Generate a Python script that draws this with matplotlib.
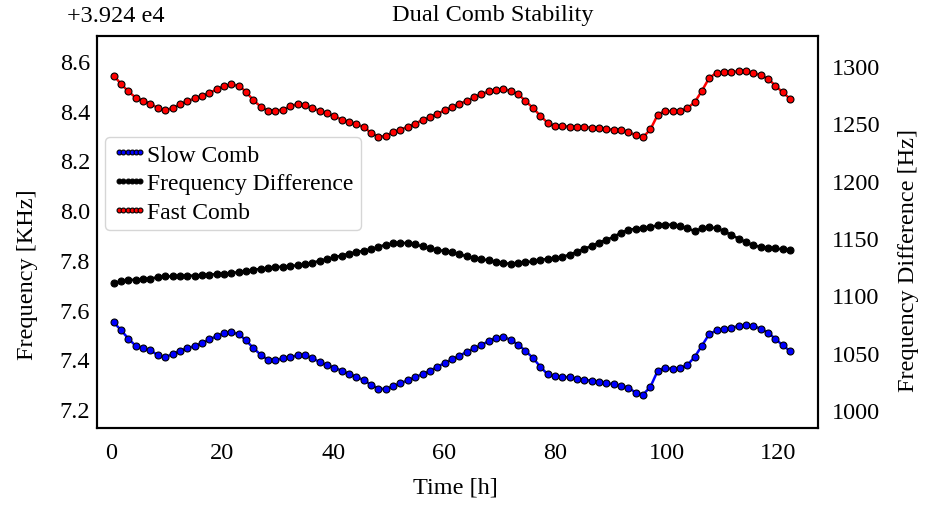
import numpy as np
import matplotlib
matplotlib.use("Agg")
import matplotlib.pyplot as plt

plt.rcParams['font.family'] = ['Liberation Serif', 'DejaVu Serif']
plt.rcParams['font.size'] = 17.5

# sampling times [h]
hours = np.linspace(0.5, 122.2, 93)

# comb frequencies in kHz, relative to the axis offset 3.924e4 kHz
slow_comb = [7.549, 7.517, 7.483, 7.454, 7.446, 7.437, 7.416, 7.409, 7.421, 7.435,
             7.444, 7.454, 7.465, 7.480, 7.493, 7.505, 7.508, 7.502, 7.476, 7.445,
             7.418, 7.398, 7.397, 7.404, 7.408, 7.417, 7.416, 7.405, 7.389, 7.377,
             7.367, 7.354, 7.342, 7.330, 7.316, 7.298, 7.282, 7.281, 7.292, 7.304,
             7.316, 7.328, 7.341, 7.354, 7.370, 7.385, 7.400, 7.415, 7.429, 7.444,
             7.457, 7.474, 7.487, 7.491, 7.478, 7.459, 7.434, 7.406, 7.371, 7.340,
             7.331, 7.330, 7.327, 7.322, 7.318, 7.314, 7.310, 7.304, 7.300, 7.294,
             7.286, 7.266, 7.258, 7.290, 7.355, 7.367, 7.360, 7.364, 7.377, 7.409,
             7.455, 7.502, 7.516, 7.521, 7.526, 7.535, 7.539, 7.534, 7.523, 7.507,
             7.482, 7.456, 7.433]

fast_comb = [8.541, 8.507, 8.477, 8.452, 8.440, 8.428, 8.410, 8.401, 8.411, 8.425,
             8.438, 8.449, 8.460, 8.471, 8.485, 8.499, 8.505, 8.500, 8.476, 8.441,
             8.416, 8.400, 8.400, 8.404, 8.417, 8.427, 8.421, 8.410, 8.399, 8.390,
             8.377, 8.364, 8.355, 8.346, 8.333, 8.311, 8.295, 8.298, 8.314, 8.324,
             8.335, 8.348, 8.362, 8.374, 8.387, 8.401, 8.414, 8.427, 8.439, 8.453,
             8.467, 8.477, 8.483, 8.487, 8.479, 8.466, 8.439, 8.411, 8.380, 8.351,
             8.338, 8.337, 8.336, 8.335, 8.333, 8.332, 8.329, 8.325, 8.324, 8.322,
             8.315, 8.300, 8.293, 8.325, 8.384, 8.399, 8.397, 8.398, 8.410, 8.433,
             8.480, 8.532, 8.552, 8.554, 8.556, 8.558, 8.560, 8.552, 8.542, 8.528,
             8.500, 8.473, 8.447]

# frequency difference [Hz]
freq_diff = [1110.5, 1112.3, 1113.2, 1113.6, 1114.0, 1114.5, 1115.8, 1116.4, 1116.5, 1116.8,
             1117.1, 1117.1, 1117.7, 1118.0, 1118.4, 1118.8, 1119.4, 1120.2, 1121.1, 1122.1,
             1123.1, 1123.8, 1124.4, 1125.0, 1125.5, 1126.1, 1126.9, 1128.4, 1130.0, 1131.6,
             1133.1, 1134.6, 1136.3, 1137.6, 1138.8, 1140.2, 1142.2, 1144.1, 1145.2, 1145.5,
             1145.6, 1144.3, 1142.6, 1141.0, 1139.7, 1138.4, 1137.3, 1136.0, 1133.8, 1132.6,
             1131.4, 1130.5, 1129.3, 1127.9, 1127.5, 1128.3, 1128.8, 1129.5, 1130.3, 1132.0,
             1132.4, 1133.4, 1135.5, 1137.8, 1140.5, 1143.0, 1145.9, 1148.3, 1150.9, 1154.6,
             1157.0, 1158.0, 1158.7, 1159.6, 1161.0, 1161.6, 1161.4, 1160.3, 1158.3, 1156.0,
             1158.2, 1159.1, 1158.6, 1155.8, 1152.5, 1149.3, 1146.2, 1143.5, 1142.1, 1141.5,
             1140.8, 1140.0, 1139.2]

left_ticks = [7.2, 7.4, 7.6, 7.8, 8.0, 8.2, 8.4, 8.6]
right_ticks = [1000, 1050, 1100, 1150, 1200, 1250, 1300]
x_ticks = [0, 20, 40, 60, 80, 100, 120]

fig = plt.figure(figsize=(9.25, 5.06), dpi=100)
ax = fig.add_axes([0.1049, 0.1522, 0.7794, 0.7747])
ax2 = ax.twinx()

mk = dict(marker='o', markersize=5, markeredgecolor='black', markeredgewidth=0.8, linewidth=1.8)
l1, = ax.plot(hours, slow_comb, color='blue', markerfacecolor='blue', label='Slow Comb', **mk)
l3, = ax.plot(hours, fast_comb, color='red', markerfacecolor='red', label='Fast Comb', **mk)
l2, = ax2.plot(hours, freq_diff, color='black', markerfacecolor='black',
               label='Frequency Difference', **mk)

ax.set_xlim(-2.5, 127.2)
ax.set_ylim(7.124, 8.70)
ax2.set_ylim(984.3, 1326)
ax.set_xticks(x_ticks)
ax.set_yticks(left_ticks)
ax.set_yticklabels([f"{t:.1f}" for t in left_ticks])
ax2.set_yticks(right_ticks)

ax.tick_params(axis='x', length=0, pad=10)
ax.tick_params(axis='y', length=0, pad=5)
ax2.tick_params(axis='y', length=0, pad=10)

for a in (ax, ax2):
    for s in a.spines.values():
        s.set_linewidth(1.5)
        s.set_color('black')

ax.set_xlabel('Time [h]')
ax.xaxis.set_label_coords(0.497, -0.123)
ax.set_ylabel('Frequency [KHz]')
ax.yaxis.set_label_coords(-0.082, 0.393)
ax2.set_ylabel('Frequency Difference [Hz]')
ax2.yaxis.set_label_coords(1.111, 0.431)

fig.text(67 / 925, 1 - 17 / 506, '+3.924 e4', ha='left', va='center')
fig.text(493 / 925, 1 - 16 / 506, 'Dual Comb Stability', ha='center', va='center')

leg = ax.legend([l1, l2, l3], ['Slow Comb', 'Frequency Difference', 'Fast Comb'],
                loc='upper left', bbox_to_anchor=(0.011, 0.742), borderaxespad=0,
                numpoints=6, markerscale=0.7, handlelength=1.5, handletextpad=0.0,
                borderpad=0.3, labelspacing=0.3, fontsize=17)

fig.savefig('out.png', dpi=100)
